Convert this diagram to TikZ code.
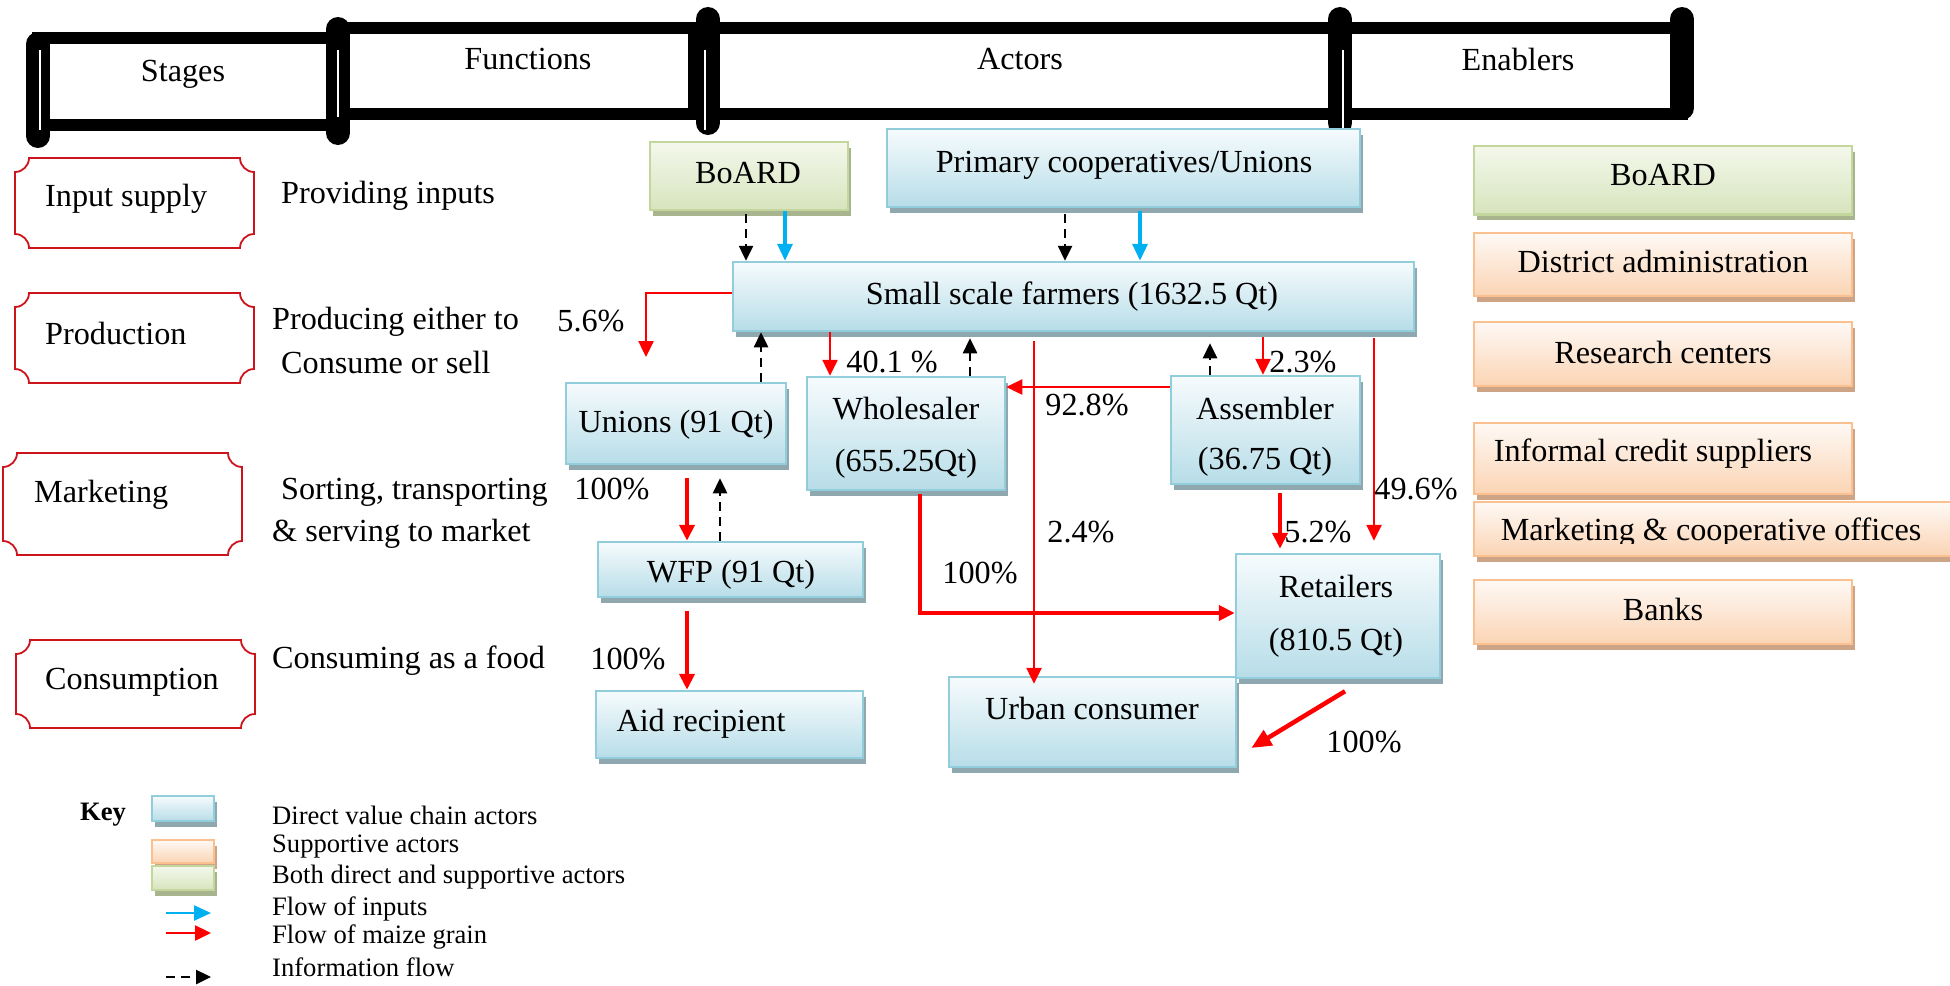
\documentclass[tikz,border=0pt]{standalone}
\usepackage{fontspec}
\setmainfont{Liberation Serif}
\usetikzlibrary{arrows.meta,shadows,calc}

\definecolor{bluetop}{RGB}{246,251,253}
\definecolor{bluebot}{RGB}{183,221,232}
\definecolor{bluebd}{RGB}{146,205,220}
\definecolor{blueshd}{RGB}{143,168,176}
\definecolor{greentop}{RGB}{244,248,236}
\definecolor{greenbot}{RGB}{215,228,189}
\definecolor{greenbd}{RGB}{195,214,155}
\definecolor{greenshd}{RGB}{168,180,142}
\definecolor{orgtop}{RGB}{254,249,245}
\definecolor{orgbot}{RGB}{251,212,180}
\definecolor{orgbd}{RGB}{250,192,144}
\definecolor{orgshd}{RGB}{206,164,134}
\definecolor{stagered}{RGB}{205,20,28}
\definecolor{inputblue}{RGB}{0,176,240}
\definecolor{grainred}{RGB}{255,0,0}

\tikzset{
  txt/.style={inner sep=0pt, font=\fontsize{32.2}{37}\selectfont},
  keytxt/.style={inner sep=0pt, font=\fontsize{26.6}{31}\selectfont, anchor=west},
  boxbase/.style={line width=2.5pt, inner sep=0pt},
  actorbox/.style={boxbase, draw=bluebd, top color=bluetop, bottom color=bluebot,
    drop shadow={shadow xshift=3pt, shadow yshift=-6pt, fill=blueshd, opacity=1}},
  greenbox/.style={boxbase, draw=greenbd, top color=greentop, bottom color=greenbot,
    drop shadow={shadow xshift=3pt, shadow yshift=-6pt, fill=greenshd, opacity=1}},
  orgbox/.style={boxbase, draw=orgbd, top color=orgtop, bottom color=orgbot,
    drop shadow={shadow xshift=3pt, shadow yshift=-6pt, fill=orgshd, opacity=1}},
  headline/.style={draw=black, line width=12pt},
  headbar/.style={draw=black, line width=24pt, line cap=round},
  headslit/.style={draw=white, line width=1.5pt},
  stageline/.style={draw=stagered, line width=1.8pt},
  grain/.style={draw=grainred, line width=2.5pt, -{Triangle[length=16pt,width=15pt]}},
  grainthick/.style={grain, line width=4.5pt},
  inputflow/.style={draw=inputblue, line width=3.5pt, -{Triangle[length=17pt,width=15pt]}},
  info/.style={draw=black, line width=2.5pt, dash pattern=on 9pt off 6pt,
    -{Triangle[length=15pt,width=14pt]}}
}

% frame with concave quarter-circle corners (x1,y1) top-left, (x2,y2) bottom-right
\newcommand{\stageframe}[4]{%
  \draw[stageline] ({#1+14},#2) -- ({#3-14},#2)
    .. controls ({#3-14},{#2+7.7}) and ({#3-7.7},{#2+14}) .. (#3,{#2+14})
    -- (#3,{#4-14})
    .. controls ({#3-7.7},{#4-14}) and ({#3-14},{#4-7.7}) .. ({#3-14},#4)
    -- ({#1+14},#4)
    .. controls ({#1+14},{#4-7.7}) and ({#1+7.7},{#4-14}) .. (#1,{#4-14})
    -- (#1,{#2+14})
    .. controls ({#1+7.7},{#2+14}) and ({#1+14},{#2+7.7}) .. cycle;}

\begin{document}
\begin{tikzpicture}[x=1pt,y=-1pt]
\useasboundingbox (0,0) rectangle (1950,985);
\fill[white] (0,0) rectangle (1950,985);

% ---------- column headers ----------
\draw[headline] (38,38) rectangle (332,125);
\draw[headline] (338,27.5) rectangle (694,114);
\draw[headline] (708,27.5) rectangle (1340,114);
\draw[headline] (1340,27.5) rectangle (1682,114);
\draw[headbar] (38,44) -- (38,136);
\draw[headbar] (338,29) -- (338,133);
\draw[headbar] (708,19) -- (708,123);
\draw[headbar] (1340,19) -- (1340,123);
\draw[headbar] (1682,19) -- (1682,108);
\draw[headslit] (40,50) -- (40,130);
\draw[headslit] (338,50) -- (338,117);
\draw[headslit] (705,50) -- (705,130);
\draw[headslit] (1343,50) -- (1343,128);

\node[txt] (hstages) at (183,74) {Stages};
\node[txt] (hfunc) at (528,59) {Functions};
\node[txt] (hactors) at (1020,59) {Actors};
\node[txt] (henab) at (1518,59) {Enablers};

% ---------- stages ----------
\stageframe{15}{158}{254}{248}
\stageframe{15}{293}{254}{383}
\stageframe{3}{453}{242}{555}
\stageframe{16}{640}{255}{728}
\node[txt, anchor=west] (sinput) at (45,199) {Input supply};
\node[txt, anchor=west] (sprod) at (45,333) {Production};
\node[txt, anchor=west] (smark) at (34,495) {Marketing};
\node[txt, anchor=west] (scons) at (45,682) {Consumption};

% ---------- functions ----------
\node[txt, anchor=west] (f1) at (281,196) {Providing inputs};
\node[txt, anchor=west] (f2a) at (272,322) {Producing either to};
\node[txt, anchor=west] (f2b) at (281,362) {Consume or sell};
\node[txt, anchor=west] (f3a) at (281,492) {Sorting, transporting};
\node[txt, anchor=west] (f3b) at (272,534) {\& serving to market};
\node[txt, anchor=west] (f4) at (272,661) {Consuming as a food};

% ---------- actors ----------
\node[greenbox, minimum width=198pt, minimum height=68pt] (board) at (749,176) {};
\node[txt] (boardt) at (748,173) {BoARD};
\node[actorbox, minimum width=473pt, minimum height=78pt] (primary) at (1123.5,168) {};
\node[txt] (primaryt) at (1124,165) {Primary cooperatives/Unions};
\node[actorbox, minimum width=681pt, minimum height=69pt] (farmers) at (1073.5,296.5) {};
\node[txt] (farmerst) at (1072,297) {Small scale farmers (1632.5 Qt)};
\node[actorbox, minimum width=220pt, minimum height=81pt] (unions) at (676,423.5) {};
\node[txt] (unionst) at (676,425) {Unions (91 Qt)};
\node[actorbox, minimum width=198pt, minimum height=113pt] (wholesaler) at (906,433.5) {};
\node[txt] (wholesalert) at (906,409) {Wholesaler};
\node[txt] (wholesalerq) at (906,464) {(655.25Qt)};
\node[actorbox, minimum width=189pt, minimum height=108pt] (assembler) at (1265.5,430) {};
\node[txt] (assemblert) at (1265,408) {Assembler};
\node[txt] (assemblerq) at (1265,462) {(36.75 Qt)};
\node[actorbox, minimum width=265pt, minimum height=55pt] (wfp) at (730.5,569.5) {};
\node[txt] (wfpt) at (731,575) {WFP (91 Qt)};
\node[actorbox, minimum width=267pt, minimum height=67pt] (aid) at (729.5,724.5) {};
\node[txt] (aidt) at (701,724) {Aid recipient};
\node[actorbox, minimum width=287pt, minimum height=90pt] (urban) at (1092.5,722) {};
\node[txt] (urbant) at (1092,708) {Urban consumer};
\node[actorbox, minimum width=204pt, minimum height=124pt] (retailers) at (1338,616) {};
\node[txt] (retailerst) at (1336,586) {Retailers};
\node[txt] (retailersq) at (1336,643) {(810.5 Qt)};

% ---------- enablers ----------
\node[greenbox, minimum width=378pt, minimum height=68.5pt] (eboard) at (1663,180) {};
\node[txt] (eboardt) at (1663,175) {BoARD};
\node[orgbox, minimum width=378pt, minimum height=63pt] (edistrict) at (1663,264.5) {};
\node[txt] (edistrictt) at (1663,261) {District administration};
\node[orgbox, minimum width=378pt, minimum height=64pt] (eresearch) at (1663,354) {};
\node[txt] (eresearcht) at (1663,352) {Research centers};
\node[orgbox, minimum width=378pt, minimum height=71pt] (ecredit) at (1663,458.5) {};
\node[txt] (ecreditt) at (1653,454) {Informal credit suppliers};
\node[orgbox, minimum width=486pt, minimum height=54pt] (eoffices) at (1717,529) {};
\begin{scope}
  \clip (1474,502) rectangle (1960,543);
  \node[txt] (eofficest) at (1711,533) {Marketing \& cooperative offices};
\end{scope}
\node[orgbox, minimum width=378pt, minimum height=64pt] (ebanks) at (1663,612) {};
\node[txt] (ebankst) at (1663,609) {Banks};

% ---------- inputs and information towards the farmers ----------
\draw[info, shorten <=3pt] ([xshift=-3pt]board.south) -- ([xshift=-3pt]board.south |- farmers.north);
\draw[inputflow] ([xshift=36pt]board.south) -- ([xshift=36pt]board.south |- farmers.north);
\draw[info, shorten <=6pt] ([xshift=-58.5pt]primary.south) -- ([xshift=-58.5pt]primary.south |- farmers.north);
\draw[inputflow, shorten <=3pt] ([xshift=16.5pt]primary.south) -- ([xshift=16.5pt]primary.south |- farmers.north);

% ---------- grain flows ----------
\coordinate (n56) at (646,357);
\draw[grain] ([yshift=3.5pt]farmers.west) -| (n56);
\draw[grain] ([xshift=-76pt]wholesaler.north |- farmers.south) -- ([xshift=-76pt]wholesaler.north);
\draw[grain, shorten <=9pt, shorten >=-8pt] ([xshift=-58.5pt]urban.north |- farmers.south) -- ([xshift=-58.5pt]urban.north);
\draw[grain, shorten <=5pt] ([xshift=-2.5pt]assembler.north |- farmers.south) -- ([xshift=-2.5pt]assembler.north);
\draw[grain] ([yshift=43pt]assembler.west) -- ([yshift=43pt]assembler.west -| wholesaler.east);
\draw[grain, shorten <=6pt, shorten >=12pt] ([xshift=36pt]retailers.north |- farmers.south) -- ([xshift=36pt]retailers.north);
\draw[grainthick, shorten <=13pt] ([xshift=-43.5pt]wfp.north |- unions.south) -- ([xshift=-43.5pt]wfp.north);
\draw[grainthick, shorten <=13pt] ([xshift=-43.5pt]wfp.south) -- ([xshift=-43.5pt]wfp.south |- aid.north);
\draw[grainthick, shorten <=3pt] ([xshift=14pt]wholesaler.south) |- ([yshift=3pt]retailers.west);
\draw[grainthick, shorten <=8pt, shorten >=4pt] ([xshift=14.5pt]assembler.south) -- ([xshift=14.5pt]assembler.south |- retailers.north);
\draw[grainthick, -{Triangle[length=20pt,width=17pt]}] ($(retailers.south)+(7,12)$) -- ($(urban.east)+(14,26)$);

% ---------- information back from the buyers ----------
\draw[info] ([xshift=85pt]unions.north) -- ([xshift=85pt]unions.north |- farmers.south);
\draw[info, shorten >=6pt] ([xshift=64pt]wholesaler.north) -- ([xshift=64pt]wholesaler.north |- farmers.south);
\draw[info, shorten >=11pt] ([xshift=-55.5pt]assembler.north) -- ([xshift=-55.5pt]assembler.north |- farmers.south);
\draw[info, shorten >=13pt] ([xshift=-10.5pt]wfp.north) -- ([xshift=-10.5pt]wfp.north |- unions.south);

% ---------- shares ----------
\node[txt] (p56) at (591,321) {5.6\%};
\node[txt] (p401) at (892,362) {40.1 \%};
\node[txt] (p23) at (1303,362) {2.3\%};
\node[txt] (p928) at (1087,405) {92.8\%};
\node[txt] (p496) at (1416,489) {49.6\%};
\node[txt] (p100a) at (612,489) {100\%};
\node[txt] (p24) at (1081,532) {2.4\%};
\node[txt] (p52) at (1318,532) {5.2\%};
\node[txt] (p100b) at (980,573) {100\%};
\node[txt] (p100c) at (628,659) {100\%};
\node[txt] (p100d) at (1364,742) {100\%};

% ---------- key ----------
\node[inner sep=0pt, font=\fontsize{26.6}{31}\selectfont\bfseries] (key) at (103,815) {Key};
\node[actorbox, minimum width=62pt, minimum height=25pt] (kblue) at (183,808.5) {};
\node[orgbox, minimum width=62pt, minimum height=23pt] (korg) at (183,851.5) {};
\node[greenbox, minimum width=62pt, minimum height=24pt] (kgreen) at (183,878) {};
\coordinate (ka1) at (166,913); \coordinate (ka2) at (211,913);
\coordinate (kb1) at (166,933); \coordinate (kb2) at (211,933);
\coordinate (kc1) at (166,977); \coordinate (kc2) at (211,977);
\draw[inputflow, line width=2.5pt] (ka1) -- (ka2);
\draw[grain] (kb1) -- (kb2);
\draw[info] (kc1) -- (kc2);
\node[keytxt] (k1) at (272,815) {Direct value chain actors};
\node[keytxt] (k2) at (272,847) {Supportive actors};
\node[keytxt] (k3) at (272,877) {Both direct and supportive actors};
\node[keytxt] (k4) at (272,909) {Flow of inputs};
\node[keytxt] (k5) at (272,937) {Flow of maize grain};
\node[keytxt] (k6) at (272,967) {Information flow};
\end{tikzpicture}
\end{document}
